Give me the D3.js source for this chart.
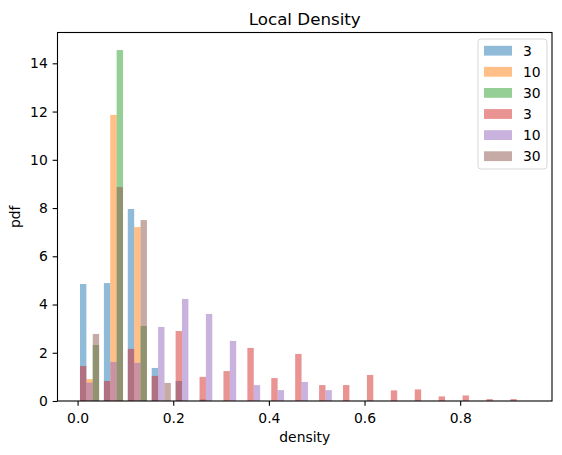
<!DOCTYPE html>
<html>
<head>
<meta charset="utf-8">
<script src="https://cdn.jsdelivr.net/npm/d3@7"></script>
<style>
  body { margin: 0; background: #fff; }
  text { font-family: "DejaVu Sans", sans-serif; fill: #000; }
</style>
</head>
<body>
<div id="chart"></div>
<script>
// bin edges (width 0.05)
var binEdges = [0.00, 0.05, 0.10, 0.15, 0.20, 0.25, 0.30, 0.35, 0.40, 0.45,
                0.50, 0.55, 0.60, 0.65, 0.70, 0.75, 0.80, 0.85, 0.90, 0.95];

// first hist call
var first3  = [4.85, 4.89, 7.96, 1.37, 0.83, 0.06, 0, 0, 0, 0, 0, 0, 0, 0, 0, 0, 0, 0, 0];
var first10 = [0.91, 11.86, 7.21, 0, 0, 0, 0, 0, 0, 0, 0, 0, 0, 0, 0, 0, 0, 0, 0];
var first30 = [2.32, 14.55, 3.11, 0, 0, 0, 0, 0, 0, 0, 0, 0, 0, 0, 0, 0, 0, 0, 0];

// second hist call
var second3  = [1.45, 0.83, 2.16, 1.04, 2.90, 1.00, 1.24, 2.20, 0.95, 1.95,
                0.66, 0.66, 1.08, 0.44, 0.48, 0.19, 0.23, 0.08, 0.08];
var second10 = [0.76, 1.62, 1.58, 3.07, 4.23, 3.61, 2.49, 0.66, 0.45, 0.79,
                0.45, 0, 0, 0, 0, 0, 0, 0, 0];
var second30 = [2.78, 8.87, 7.50, 0.75, 0, 0, 0, 0, 0, 0, 0, 0, 0, 0, 0, 0, 0, 0, 0];

var seriesLabels = ["3", "10", "30", "3", "10", "30"];
var xTicks = [0.0, 0.2, 0.4, 0.6, 0.8];
var yTicks = [0, 2, 4, 6, 8, 10, 12, 14];

var colors = ["#1f77b4", "#ff7f0e", "#2ca02c", "#d62728", "#9467bd", "#8c564b"];

// each call gets its own 3 bars per bin
var calls = [[first3, first10, first30], [second3, second10, second30]];

// set the dimensions of the plot area
var W = 562, H = 455;
var plotLeft = 57.5, plotRight = 552, plotTop = 32.5, plotBottom = 401;
var tick = 4.86;

var binW = binEdges[1] - binEdges[0];
var barW = 0.8 * binW / 3;

// x domain like matplotlib: bar extent plus 5% margins
var x0 = binEdges[0] + 0.1 * binW,
    x1 = binEdges[binEdges.length - 2] + 0.1 * binW + 3 * barW,
    span = x1 - x0;
var x = d3.scaleLinear().domain([x0 - 0.05 * span, x1 + 0.05 * span]).range([plotLeft, plotRight]);

var ymax = d3.max([first3, first10, first30, second3, second10, second30], function(a) { return d3.max(a); });
var y = d3.scaleLinear().domain([0, ymax * 1.05]).range([plotBottom, plotTop]);

var svg = d3.select("#chart").append("svg")
    .attr("width", W)
    .attr("height", H);

// bars
calls.forEach(function(sets, c) {
  sets.forEach(function(vals, k) {
    svg.append("g")
      .selectAll("rect")
      .data(vals)
      .enter().append("rect")
        .attr("x", function(d, i) { return x(binEdges[i] + 0.1 * binW + k * barW); })
        .attr("width", function(d, i) {
          var s = binEdges[i] + 0.1 * binW + k * barW;
          return x(s + barW) - x(s);
        })
        .attr("y", function(d) { return y(d); })
        .attr("height", function(d) { return plotBottom - y(d); })
        .attr("fill", colors[c * 3 + k])
        .attr("fill-opacity", 0.5);
  });
});

// axes
var xAxis = svg.append("g")
    .attr("transform", "translate(0," + plotBottom + ")")
    .call(d3.axisBottom(x).tickValues(xTicks).tickFormat(d3.format(".1f")).tickSizeOuter(0).tickSize(tick).tickPadding(tick));
var yAxis = svg.append("g")
    .attr("transform", "translate(" + plotLeft + ",0)")
    .call(d3.axisLeft(y).tickValues(yTicks).tickSizeOuter(0).tickSize(tick).tickPadding(tick));

[xAxis, yAxis].forEach(function(a) {
  a.selectAll("text").style("font-size", "13.9px").style("font-family", "DejaVu Sans");
  a.selectAll("line").attr("stroke", "#000").attr("stroke-width", 1.1);
  a.select(".domain").remove();
});
xAxis.selectAll("text").attr("y", 22).attr("dy", null);

// frame
svg.append("rect")
    .attr("x", plotLeft).attr("y", plotTop)
    .attr("width", plotRight - plotLeft).attr("height", plotBottom - plotTop)
    .attr("fill", "none").attr("stroke", "#000").attr("stroke-width", 1.1);

// title and labels
svg.append("text")
    .attr("x", (plotLeft + plotRight) / 2).attr("y", 25.3)
    .attr("text-anchor", "middle")
    .style("font-size", "16.7px")
    .text("Local Density");

svg.append("text")
    .attr("x", (plotLeft + plotRight) / 2).attr("y", 442)
    .attr("text-anchor", "middle")
    .style("font-size", "13.9px")
    .text("density");

svg.append("text")
    .attr("transform", "translate(20," + (plotTop + plotBottom) / 2 + ") rotate(-90)")
    .attr("text-anchor", "middle")
    .style("font-size", "13.9px")
    .text("pdf");

// legend
var lg = svg.append("g");
lg.append("rect")
    .attr("x", 478).attr("y", 39)
    .attr("width", 69).attr("height", 130)
    .attr("rx", 3)
    .attr("fill", "#fff").attr("fill-opacity", 0.8)
    .attr("stroke", "#d6d6d6").attr("stroke-width", 1);

seriesLabels.forEach(function(lab, i) {
  var cy = 50.7 + i * 21.1;
  lg.append("rect")
      .attr("x", 484).attr("y", cy - 4.9)
      .attr("width", 28).attr("height", 9.8)
      .attr("fill", colors[i]).attr("fill-opacity", 0.5);
  lg.append("text")
      .attr("x", 523).attr("y", cy)
      .attr("dy", "0.36em")
      .style("font-size", "13.9px")
      .text(lab);
});
</script>
</body>
</html>
